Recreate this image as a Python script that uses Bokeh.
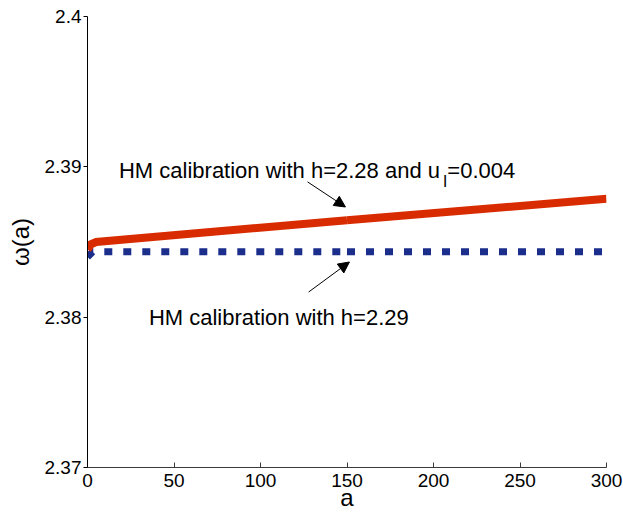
import numpy as np
from bokeh.plotting import figure
from bokeh.models import (Range1d, FixedTicker, Label, Arrow, NormalHead)
from bokeh.embed import file_html
from bokeh.resources import INLINE

# ---- data ----
a_red = [0, 2, 5, 150, 300]
w_red = [2.38450, 2.38485, 2.38500, 2.38645, 2.38787]
a_blue = [0, 3, 150, 300]
w_blue = [2.38400, 2.38435, 2.38435, 2.38435]
split_a = 150

x_ticks = [0, 50, 100, 150, 200, 250, 300]
y_ticks = [2.37, 2.38, 2.39, 2.4]
y_tick_labels = ["2.37", "2.38", "2.39", "2.4"]

label_red = "HM calibration with h=2.28 and u"
label_red_sub = "l"
label_red_tail = "=0.004"
label_blue = "HM calibration with h=2.29"

FONT = "Liberation Sans"
RED = "#D92B00"
BLUE = "#1C2E8C"


def split(xs, ys, at):
    xs1 = [x for x in xs if x <= at]
    ys1 = [y for x, y in zip(xs, ys) if x <= at]
    xs2 = [x for x in xs if x >= at]
    ys2 = [y for x, y in zip(xs, ys) if x >= at]
    return [xs1, xs2], [ys1, ys2]


p = figure(width=623, height=516, output_backend="svg", toolbar_location=None,
           x_range=Range1d(0, 300), y_range=Range1d(2.37, 2.4),
           min_border_left=87, min_border_right=17, min_border_top=16,
           min_border_bottom=49)
p.outline_line_color = None
p.xgrid.visible = False
p.ygrid.visible = False
p.background_fill_color = "white"
p.border_fill_color = "white"

bx, by = split(a_blue, w_blue, split_a)
p.multi_line(bx, by, line_color=BLUE, line_width=7, line_dash="8 11",
             line_cap="butt")
rx, ry = split(a_red, w_red, split_a)
p.multi_line(rx, ry, line_color=RED, line_width=8, line_cap="butt",
             line_join="miter")

# axes
xa = p.xaxis[0]
xa.ticker = FixedTicker(ticks=x_ticks)
xa.major_tick_in = 5
xa.major_tick_out = 0
xa.minor_tick_line_color = None
xa.axis_line_color = "#3a3a3a"
xa.major_tick_line_color = "#3a3a3a"
xa.major_label_text_font = FONT
xa.major_label_text_font_size = "19px"
xa.major_label_text_color = "black"
xa.major_label_standoff = 6
xa.axis_label = "a"
xa.axis_label_text_font = FONT
xa.axis_label_text_font_size = "24px"
xa.axis_label_text_font_style = "normal"
xa.axis_label_text_color = "black"
xa.axis_label_standoff = -6

ya = p.yaxis[0]
ya.ticker = FixedTicker(ticks=y_ticks)
ya.major_label_overrides = {t: s for t, s in zip(y_ticks, y_tick_labels)}
ya.major_tick_in = 0
ya.major_tick_out = 4
ya.minor_tick_line_color = None
ya.axis_line_color = "black"
ya.major_tick_line_color = "black"
ya.major_label_text_font = FONT
ya.major_label_text_font_size = "19px"
ya.major_label_text_color = "black"
ya.major_label_standoff = 2
ya.axis_label = "ω(a)"
ya.axis_label_text_font = FONT
ya.axis_label_text_font_size = "24px"
ya.axis_label_text_font_style = "normal"
ya.axis_label_text_color = "black"
ya.axis_label_standoff = 8

# annotations
p.add_layout(Label(x=18.2, y=2.38973, text=label_red, text_font=FONT,
                   text_font_size="22px", text_baseline="alphabetic",
                   text_color="black"))
p.add_layout(Label(x=205.7, y=2.38900, text=label_red_sub, text_font=FONT,
                   text_font_size="17px", text_baseline="alphabetic",
                   text_color="black"))
p.add_layout(Label(x=208.0, y=2.38973, text=label_red_tail, text_font=FONT,
                   text_font_size="22px", text_baseline="alphabetic",
                   text_color="black"))
p.add_layout(Label(x=35.5, y=2.38000, text=label_blue, text_font=FONT,
                   text_font_size="22px", text_baseline="alphabetic",
                   text_color="black"))

head1 = NormalHead(size=11, fill_color="black", line_color="black")
p.add_layout(Arrow(end=head1, x_start=127.2, y_start=2.3890, x_end=149.1,
                   y_end=2.38733, line_color="black", line_width=1))
head2 = NormalHead(size=11, fill_color="black", line_color="black")
p.add_layout(Arrow(end=head2, x_start=127.8, y_start=2.38167, x_end=151.4,
                   y_end=2.38367, line_color="black", line_width=1))

open("out.html", "w").write(file_html(p, INLINE))
